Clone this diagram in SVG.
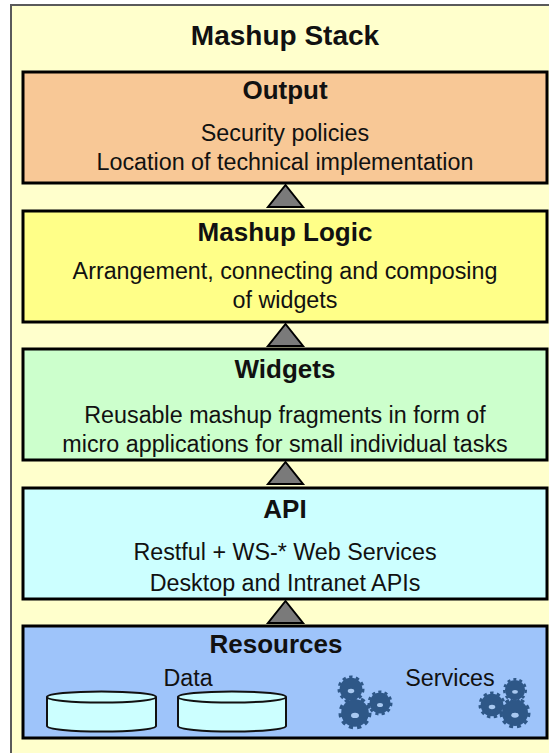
<svg xmlns="http://www.w3.org/2000/svg" width="549" height="753" viewBox="0 0 549 753">
<style>
text{font-family:"Liberation Sans",Arial,sans-serif;fill:#111;text-anchor:middle}
.title{font-size:28px;font-weight:bold}
.hd{font-size:26px;font-weight:bold}
.bd{font-size:23.3px}
.box{stroke:#000;stroke-width:3}
.tri{fill:#7a7a7a;stroke:#000;stroke-width:2;stroke-linejoin:miter}
.cyl{fill:#CCFFFF;stroke:#111;stroke-width:2}
.gear{fill:#2E5787}
.teeth{fill:none;stroke:#2E5787}
.hole{fill:#A8C8F0}
</style>
<defs>
<g id="gear">
<circle class="gear" r="0.84"/>
<circle class="teeth" r="0.9" stroke-width="0.2" pathLength="20" stroke-dasharray="1 1"/>
<ellipse class="hole" cx="0" cy="0.15" rx="0.24" ry="0.16"/>
</g>
</defs>
<rect x="0" y="0" width="549" height="753" fill="#fff"/>
<g id="mashup-stack">
<rect x="11" y="5" width="560" height="770" fill="#FFFFCC" stroke="#5a5a5a" stroke-width="2"/>
<text class="title" x="285" y="45">Mashup Stack</text>
</g>
<g id="output">
<rect class="box" x="23" y="72" width="524" height="111" fill="#F8C896"/>
<text class="hd" x="285" y="99">Output</text>
<text class="bd" x="285" y="141">Security policies</text>
<text class="bd" x="285" y="170">Location of technical implementation</text>
</g>
<g id="mashup-logic">
<rect class="box" x="23" y="211" width="524" height="111" fill="#FFFF88"/>
<text class="hd" x="285" y="241">Mashup Logic</text>
<text class="bd" x="285" y="279">Arrangement, connecting and composing</text>
<text class="bd" x="285" y="308">of widgets</text>
</g>
<g id="widgets">
<rect class="box" x="23" y="349" width="524" height="111" fill="#CCFFCC"/>
<text class="hd" x="285" y="378">Widgets</text>
<text class="bd" x="285" y="423">Reusable mashup fragments in form of</text>
<text class="bd" x="285" y="452">micro applications for small individual tasks</text>
</g>
<g id="api">
<rect class="box" x="23" y="488" width="524" height="111" fill="#CCFFFF"/>
<text class="hd" x="285" y="518">API</text>
<text class="bd" x="285" y="560">Restful + WS-* Web Services</text>
<text class="bd" x="285" y="591">Desktop and Intranet APIs</text>
</g>
<g id="resources">
<rect class="box" x="23" y="626" width="524" height="112" fill="#9EC4FA"/>
<text class="hd" x="276" y="653">Resources</text>
<text class="bd" x="188" y="686">Data</text>
<text class="bd" x="450" y="686">Services</text>
<path class="cyl" d="M47,697 V726 A54.5,5.5 0 0 0 156,726 V697 A54.5,5.5 0 0 0 47,697 A54.5,5.5 0 0 0 156,697"/>
<path class="cyl" d="M178,697 V726 A54,5.5 0 0 0 286,726 V697 A54,5.5 0 0 0 178,697 A54,5.5 0 0 0 286,697"/>
<use href="#gear" transform="translate(351,689) scale(13.5)"/>
<use href="#gear" transform="translate(380,703) scale(12.5)"/>
<use href="#gear" transform="translate(355,713) scale(16.5)"/>
<use href="#gear" transform="translate(515,690) scale(12)"/>
<use href="#gear" transform="translate(492,705) scale(13.5)"/>
<use href="#gear" transform="translate(515,713) scale(15.5)"/>
</g>
<g id="connectors">
<polygon class="tri" points="285.5,185 268,207 303,207"/>
<polygon class="tri" points="285.5,324 268,346 303,346"/>
<polygon class="tri" points="285.5,462 268,484 303,484"/>
<polygon class="tri" points="285.5,601 268,623 303,623"/>
</g>
</svg>
